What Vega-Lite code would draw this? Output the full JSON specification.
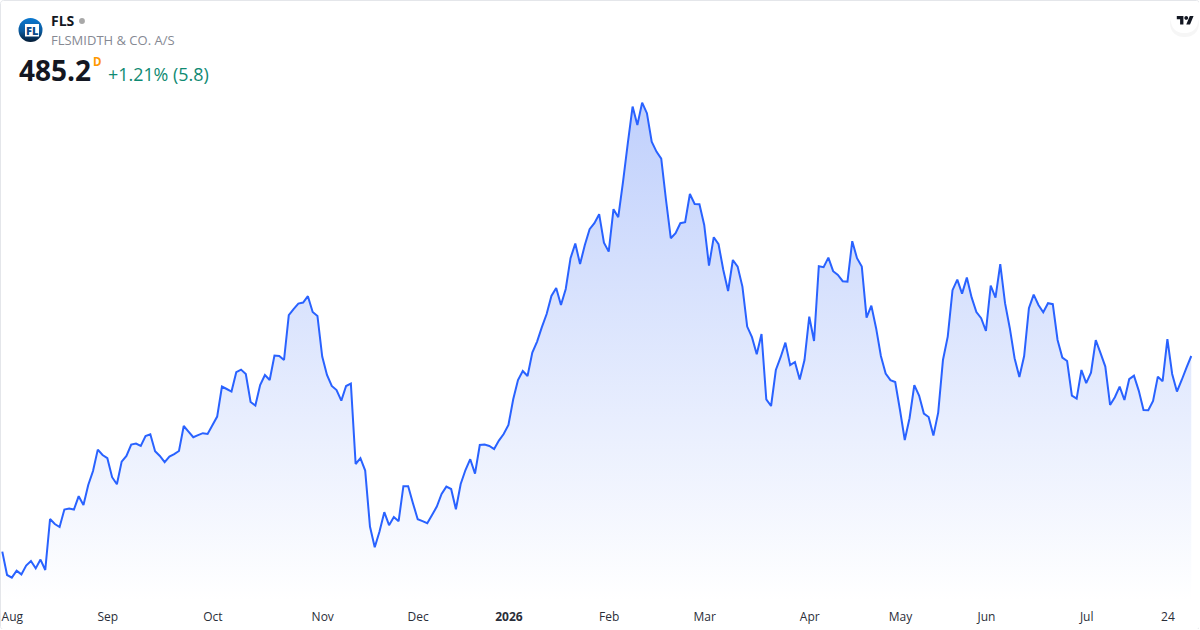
{
  "$schema": "https://vega.github.io/schema/vega-lite/v6.json",
  "description": "FLS daily close, Aug to Jul",
  "width": 1199,
  "height": 629,
  "padding": 0,
  "autosize": "none",
  "background": "#ffffff",
  "config": {
    "view": {"stroke": "#e4e6ea", "cornerRadius": 3},
    "font": "Open Sans",
    "text": {"font": "Open Sans", "align": "left", "baseline": "alphabetic"}
  },
  "datasets": {
    "prices": [
      {"day":0,"close":387.4},{"day":1,"close":375.7},{"day":2,"close":374.4},{"day":3,"close":377.9},{"day":4,"close":376.0},{"day":5,"close":380.4},{"day":6,"close":382.7},{"day":7,"close":379.0},{"day":8,"close":383.4},{"day":9,"close":378.2},
      {"day":10,"close":403.7},{"day":11,"close":401.2},{"day":12,"close":399.7},{"day":13,"close":408.4},{"day":14,"close":408.9},{"day":15,"close":408.4},{"day":16,"close":415.1},{"day":17,"close":410.7},{"day":18,"close":420.7},{"day":19,"close":427.7},
      {"day":20,"close":438.4},{"day":21,"close":435.7},{"day":22,"close":434.1},{"day":23,"close":424.6},{"day":24,"close":421.1},{"day":25,"close":432.4},{"day":26,"close":435.2},{"day":27,"close":440.9},{"day":28,"close":441.4},{"day":29,"close":440.2},
      {"day":30,"close":445.2},{"day":31,"close":446.1},{"day":32,"close":437.6},{"day":33,"close":435.2},{"day":34,"close":432.1},{"day":35,"close":434.9},{"day":36,"close":436.1},{"day":37,"close":437.7},{"day":38,"close":450.2},{"day":39,"close":447.4},
      {"day":40,"close":444.6},{"day":41,"close":445.6},{"day":42,"close":446.6},{"day":43,"close":446.2},{"day":44,"close":450.6},{"day":45,"close":454.9},{"day":46,"close":469.9},{"day":47,"close":468.7},{"day":48,"close":467.4},{"day":49,"close":477.1},
      {"day":50,"close":478.4},{"day":51,"close":476.2},{"day":52,"close":462.2},{"day":53,"close":460.4},{"day":54,"close":470.7},{"day":55,"close":475.7},{"day":56,"close":473.2},{"day":57,"close":485.4},{"day":58,"close":485.2},{"day":59,"close":483.2},
      {"day":60,"close":505.6},{"day":61,"close":508.6},{"day":62,"close":511.4},{"day":63,"close":511.9},{"day":64,"close":515.1},{"day":65,"close":507.2},{"day":66,"close":505.2},{"day":67,"close":484.9},{"day":68,"close":475.7},{"day":69,"close":470.2},
      {"day":70,"close":468.2},{"day":71,"close":462.9},{"day":72,"close":470.2},{"day":73,"close":471.4},{"day":74,"close":431.2},{"day":75,"close":434.1},{"day":76,"close":427.9},{"day":77,"close":399.9},{"day":78,"close":389.6},{"day":79,"close":397.4},
      {"day":80,"close":407.1},{"day":81,"close":400.6},{"day":82,"close":404.7},{"day":83,"close":402.6},{"day":84,"close":420.1},{"day":85,"close":420.1},{"day":86,"close":411.6},{"day":87,"close":403.6},{"day":88,"close":402.6},{"day":89,"close":401.6},
      {"day":90,"close":405.7},{"day":91,"close":409.9},{"day":92,"close":416.2},{"day":93,"close":419.9},{"day":94,"close":418.7},{"day":95,"close":408.6},{"day":96,"close":421.2},{"day":97,"close":428.2},{"day":98,"close":433.6},{"day":99,"close":426.4},
      {"day":100,"close":440.7},{"day":101,"close":440.9},{"day":102,"close":440.2},{"day":103,"close":438.7},{"day":104,"close":442.9},{"day":105,"close":446.2},{"day":106,"close":450.7},{"day":107,"close":463.6},{"day":108,"close":473.2},{"day":109,"close":477.7},
      {"day":110,"close":475.2},{"day":111,"close":486.9},{"day":112,"close":492.4},{"day":113,"close":499.6},{"day":114,"close":506.2},{"day":115,"close":515.2},{"day":116,"close":519.2},{"day":117,"close":510.7},{"day":118,"close":518.7},{"day":119,"close":534.1},
      {"day":120,"close":541.4},{"day":121,"close":531.2},{"day":122,"close":540.7},{"day":123,"close":548.6},{"day":124,"close":551.6},{"day":125,"close":556.1},{"day":126,"close":541.9},{"day":127,"close":537.4},{"day":128,"close":558.6},{"day":129,"close":554.6},
      {"day":130,"close":572.4},{"day":131,"close":591.6},{"day":132,"close":609.9},{"day":133,"close":600.7},{"day":134,"close":611.9},{"day":135,"close":606.6},{"day":136,"close":592.4},{"day":137,"close":587.4},{"day":138,"close":583.9},{"day":139,"close":563.2},
      {"day":140,"close":544.1},{"day":141,"close":546.6},{"day":142,"close":551.6},{"day":143,"close":552.1},{"day":144,"close":566.2},{"day":145,"close":561.2},{"day":146,"close":561.1},{"day":147,"close":550.7},{"day":148,"close":530.4},{"day":149,"close":544.6},
      {"day":150,"close":541.1},{"day":151,"close":528.2},{"day":152,"close":517.7},{"day":153,"close":533.2},{"day":154,"close":529.9},{"day":155,"close":519.9},{"day":156,"close":499.9},{"day":157,"close":494.6},{"day":158,"close":486.1},{"day":159,"close":496.2},
      {"day":160,"close":463.5},{"day":161,"close":460.2},{"day":162,"close":478.2},{"day":163,"close":484.6},{"day":164,"close":491.9},{"day":165,"close":480.6},{"day":166,"close":482.2},{"day":167,"close":473.4},{"day":168,"close":483.2},{"day":169,"close":504.9},
      {"day":170,"close":492.7},{"day":171,"close":530.1},{"day":172,"close":529.6},{"day":173,"close":534.4},{"day":174,"close":527.6},{"day":175,"close":525.7},{"day":176,"close":522.6},{"day":177,"close":522.4},{"day":178,"close":542.6},{"day":179,"close":534.1},
      {"day":180,"close":529.9},{"day":181,"close":504.4},{"day":182,"close":510.4},{"day":183,"close":499.1},{"day":184,"close":485.2},{"day":185,"close":476.4},{"day":186,"close":473.1},{"day":187,"close":472.2},{"day":188,"close":458.2},{"day":189,"close":443.2},
      {"day":190,"close":454.1},{"day":191,"close":470.6},{"day":192,"close":465.4},{"day":193,"close":456.4},{"day":194,"close":454.7},{"day":195,"close":445.4},{"day":196,"close":456.9},{"day":197,"close":483.2},{"day":198,"close":494.9},{"day":199,"close":518.1},
      {"day":200,"close":523.4},{"day":201,"close":516.4},{"day":202,"close":524.4},{"day":203,"close":514.5},{"day":204,"close":507.2},{"day":205,"close":504.1},{"day":206,"close":497.7},{"day":207,"close":520.4},{"day":208,"close":514.4},{"day":209,"close":531.1},
      {"day":210,"close":511.6},{"day":211,"close":499.1},{"day":212,"close":484.1},{"day":213,"close":474.7},{"day":214,"close":485.2},{"day":215,"close":509.1},{"day":216,"close":515.9},{"day":217,"close":510.7},{"day":218,"close":507.1},{"day":219,"close":511.6},
      {"day":220,"close":511.1},{"day":221,"close":493.2},{"day":222,"close":484.4},{"day":223,"close":482.7},{"day":224,"close":465.4},{"day":225,"close":463.9},{"day":226,"close":478.2},{"day":227,"close":471.6},{"day":228,"close":476.9},{"day":229,"close":493.1},
      {"day":230,"close":486.6},{"day":231,"close":479.9},{"day":232,"close":460.7},{"day":233,"close":464.6},{"day":234,"close":469.9},{"day":235,"close":463.2},{"day":236,"close":473.6},{"day":237,"close":475.4},{"day":238,"close":467.9},{"day":239,"close":458.2},
      {"day":240,"close":458.1},{"day":241,"close":462.7},{"day":242,"close":474.9},{"day":243,"close":472.6},{"day":244,"close":493.6},{"day":245,"close":476.2},{"day":246,"close":467.4},{"day":247,"close":473.2},{"day":248,"close":479.4},{"day":249,"close":485.2}
    ]
  },
  "layer": [
    {
      "data": {"name": "prices"},
      "mark": {
        "type": "area",
        "color": {
          "gradient": "linear",
          "x1": 0, "y1": 0, "x2": 0, "y2": 1,
          "stops": [
            {"offset": 0, "color": "#c0d0fc"},
            {"offset": 1, "color": "#ffffff"}
          ]
        }
      },
      "encoding": {
        "x": {
          "field": "day",
          "type": "quantitative",
          "scale": {"domain": [-0.48, 250.62], "nice": false, "zero": false},
          "axis": {
            "title": null,
            "grid": false,
            "domain": false,
            "ticks": false,
            "values": [2, 22, 44, 67, 87, 106, 127, 147, 169, 188, 206, 227, 244],
            "labelExpr": "{'2':'Aug','22':'Sep','44':'Oct','67':'Nov','87':'Dec','106':'2026','127':'Feb','147':'Mar','169':'Apr','188':'May','206':'Jun','227':'Jul','244':'24'}[datum.value]",
            "labelFont": "Open Sans",
            "labelFontSize": 12,
            "labelColor": "#2a2e39",
            "labelFontWeight": {"condition": {"test": "datum.value == 106", "value": "bold"}, "value": "normal"},
            "labelPadding": -18,
            "labelOverlap": false,
            "labelFlush": false,
            "labelBound": false
          }
        },
        "y": {
          "field": "close",
          "type": "quantitative",
          "scale": {"domain": [348.7, 663.2], "nice": false, "zero": false},
          "axis": null
        },
        "y2": {"datum": 363}
      }
    },
    {
      "data": {"name": "prices"},
      "mark": {"type": "line", "color": "#2962ff", "strokeWidth": 2, "strokeJoin": "miter", "strokeMiterLimit": 2},
      "encoding": {
        "x": {"field": "day", "type": "quantitative"},
        "y": {"field": "close", "type": "quantitative"}
      }
    },
    {
      "data": {"values": [{"label": "logo"}]},
      "mark": {
        "type": "point",
        "shape": "circle",
        "filled": true,
        "opacity": 1,
        "size": 576,
        "color": {
          "gradient": "linear",
          "x1": 0, "y1": 0, "x2": 0, "y2": 1,
          "stops": [
            {"offset": 0, "color": "#0a78d0"},
            {"offset": 0.55, "color": "#0a5a9e"},
            {"offset": 1, "color": "#031a33"}
          ]
        }
      },
      "encoding": {"x": {"value": 30.5}, "y": {"value": 30}}
    },
    {
      "data": {"values": [{"label": "logo box"}]},
      "mark": {"type": "rect", "color": "#ffffff"},
      "encoding": {"x": {"value": 25}, "x2": {"value": 39}, "y": {"value": 24}, "y2": {"value": 36.5}}
    },
    {
      "data": {"values": [{"label": "FL"}]},
      "mark": {"type": "text", "font": "Open Sans", "fontSize": 11, "fontWeight": 800, "color": "#064a8c"},
      "encoding": {"x": {"value": 26}, "y": {"value": 34.5}, "text": {"field": "label"}}
    },
    {
      "data": {"values": [{"label": "FLS"}]},
      "mark": {"type": "text", "fontSize": 14, "fontWeight": "bold", "color": "#131722"},
      "encoding": {"x": {"value": 51}, "y": {"value": 26}, "text": {"field": "label"}}
    },
    {
      "data": {"values": [{"label": "status"}]},
      "mark": {"type": "point", "shape": "circle", "filled": true, "opacity": 1, "size": 34, "color": "#a8a8a8"},
      "encoding": {"x": {"value": 82}, "y": {"value": 21}}
    },
    {
      "data": {"values": [{"label": "FLSMIDTH & CO. A/S"}]},
      "mark": {"type": "text", "fontSize": 13, "color": "#868993"},
      "encoding": {"x": {"value": 51}, "y": {"value": 45}, "text": {"field": "label"}}
    },
    {
      "data": {"values": [{"label": "485.2"}]},
      "mark": {"type": "text", "fontSize": 28, "fontWeight": "bold", "color": "#131722"},
      "encoding": {"x": {"value": 19}, "y": {"value": 81}, "text": {"field": "label"}}
    },
    {
      "data": {"values": [{"label": "D"}]},
      "mark": {"type": "text", "fontSize": 11.5, "fontWeight": "bold", "color": "#ff9800"},
      "encoding": {"x": {"value": 93}, "y": {"value": 66}, "text": {"field": "label"}}
    },
    {
      "data": {"values": [{"label": "+1.21% (5.8)"}]},
      "mark": {"type": "text", "fontSize": 17.9, "color": "#0f8a72"},
      "encoding": {"x": {"value": 108}, "y": {"value": 81}, "text": {"field": "label"}}
    },
    {
      "data": {"values": [{"label": "badge shadow"}]},
      "mark": {"type": "rect", "color": "#000000", "opacity": 0.035, "cornerRadius": 13},
      "encoding": {"x": {"value": 1170}, "x2": {"value": 1199}, "y": {"value": 11}, "y2": {"value": 37}}
    },
    {
      "data": {"values": [{"label": "badge"}]},
      "mark": {"type": "rect", "color": "#ffffff", "cornerRadius": 12},
      "encoding": {"x": {"value": 1171}, "x2": {"value": 1198}, "y": {"value": 9}, "y2": {"value": 33}}
    },
    {
      "data": {"values": [{"label": "tv logo"}]},
      "mark": {
        "type": "point",
        "filled": true,
        "opacity": 1,
        "size": 289,
        "color": "#131722",
        "shape": "M-0.222 0.5H-0.611V-0.111H-1V-0.5H-0.222ZM0.556 0.5H0.111L0.528 -0.5H0.972ZM-0.111 -0.278a0.222 0.222 0 1 0 0.444 0a0.222 0.222 0 1 0 -0.444 0Z"
      },
      "encoding": {"x": {"value": 1185.3}, "y": {"value": 20.3}}
    }
  ]
}
